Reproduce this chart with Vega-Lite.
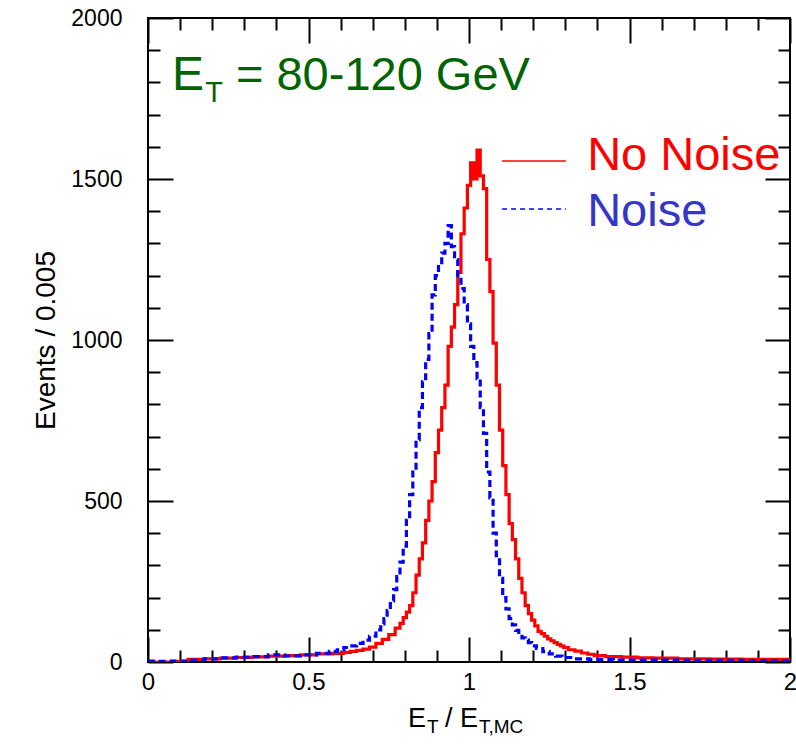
{
  "$schema": "https://vega.github.io/schema/vega-lite/v6.json",
  "width": 642,
  "height": 644,
  "autosize": {"type": "none"},
  "padding": {"left": 148, "top": 18, "right": 6, "bottom": 84},
  "background": "white",
  "config": {"view": {"stroke": "black", "strokeWidth": 2}, "font": "Liberation Sans"},
  "datasets": {
    "nonoise": [
      {"x":0,"n":0},{"x":0.05,"n":0},{"x":0.1,"n":2},{"x":0.15,"n":8},{"x":0.2,"n":10},{"x":0.25,"n":12},{"x":0.3,"n":14},{"x":0.35,"n":16},{"x":0.4,"n":18},{"x":0.45,"n":20},{"x":0.5,"n":22},{"x":0.55,"n":25},{"x":0.6,"n":27},{"x":0.62,"n":30},{"x":0.64,"n":33},{"x":0.66,"n":36},{"x":0.68,"n":40},{"x":0.7,"n":46},{"x":0.72,"n":58},{"x":0.74,"n":70},{"x":0.76,"n":85},{"x":0.78,"n":105},{"x":0.79,"n":120},{"x":0.8,"n":138},{"x":0.81,"n":155},{"x":0.82,"n":175},{"x":0.83,"n":215},{"x":0.84,"n":270},{"x":0.85,"n":320},{"x":0.86,"n":370},{"x":0.87,"n":440},{"x":0.88,"n":500},{"x":0.89,"n":560},{"x":0.9,"n":650},{"x":0.91,"n":720},{"x":0.92,"n":790},{"x":0.93,"n":860},{"x":0.94,"n":980},{"x":0.95,"n":1040},{"x":0.96,"n":1110},{"x":0.97,"n":1210},{"x":0.98,"n":1330},{"x":0.99,"n":1410},{"x":1.0,"n":1480},{"x":1.01,"n":1550},{"x":1.02,"n":1500},{"x":1.03,"n":1590},{"x":1.04,"n":1510},{"x":1.05,"n":1470},{"x":1.06,"n":1250},{"x":1.07,"n":1150},{"x":1.08,"n":990},{"x":1.09,"n":860},{"x":1.1,"n":720},{"x":1.11,"n":610},{"x":1.12,"n":520},{"x":1.13,"n":430},{"x":1.14,"n":380},{"x":1.15,"n":320},{"x":1.16,"n":260},{"x":1.17,"n":215},{"x":1.18,"n":175},{"x":1.19,"n":150},{"x":1.2,"n":130},{"x":1.21,"n":112},{"x":1.22,"n":95},{"x":1.23,"n":88},{"x":1.24,"n":80},{"x":1.25,"n":72},{"x":1.26,"n":66},{"x":1.27,"n":60},{"x":1.28,"n":55},{"x":1.29,"n":50},{"x":1.3,"n":45},{"x":1.32,"n":38},{"x":1.34,"n":34},{"x":1.36,"n":28},{"x":1.38,"n":24},{"x":1.4,"n":20},{"x":1.45,"n":17},{"x":1.5,"n":15},{"x":1.55,"n":13},{"x":1.6,"n":12},{"x":1.7,"n":10},{"x":1.8,"n":9},{"x":1.9,"n":8},{"x":2.0,"n":8}
    ],
    "noise": [
      {"x":0,"n":3},{"x":0.05,"n":2},{"x":0.1,"n":3},{"x":0.15,"n":6},{"x":0.2,"n":10},{"x":0.25,"n":13},{"x":0.3,"n":15},{"x":0.35,"n":17},{"x":0.4,"n":22},{"x":0.45,"n":19},{"x":0.5,"n":22},{"x":0.55,"n":27},{"x":0.58,"n":33},{"x":0.6,"n":38},{"x":0.62,"n":45},{"x":0.64,"n":50},{"x":0.66,"n":58},{"x":0.68,"n":68},{"x":0.7,"n":80},{"x":0.72,"n":100},{"x":0.73,"n":118},{"x":0.74,"n":135},{"x":0.75,"n":160},{"x":0.76,"n":190},{"x":0.77,"n":225},{"x":0.78,"n":265},{"x":0.79,"n":310},{"x":0.8,"n":360},{"x":0.81,"n":440},{"x":0.82,"n":520},{"x":0.83,"n":590},{"x":0.84,"n":690},{"x":0.85,"n":790},{"x":0.86,"n":870},{"x":0.87,"n":940},{"x":0.88,"n":1020},{"x":0.89,"n":1140},{"x":0.9,"n":1200},{"x":0.91,"n":1240},{"x":0.92,"n":1270},{"x":0.93,"n":1300},{"x":0.94,"n":1355},{"x":0.95,"n":1290},{"x":0.96,"n":1250},{"x":0.97,"n":1200},{"x":0.98,"n":1160},{"x":0.99,"n":1110},{"x":1.0,"n":1050},{"x":1.01,"n":980},{"x":1.02,"n":930},{"x":1.03,"n":880},{"x":1.04,"n":790},{"x":1.05,"n":710},{"x":1.06,"n":590},{"x":1.07,"n":510},{"x":1.08,"n":400},{"x":1.09,"n":330},{"x":1.1,"n":260},{"x":1.11,"n":200},{"x":1.12,"n":165},{"x":1.13,"n":135},{"x":1.14,"n":115},{"x":1.15,"n":98},{"x":1.16,"n":85},{"x":1.17,"n":75},{"x":1.18,"n":68},{"x":1.19,"n":60},{"x":1.2,"n":50},{"x":1.22,"n":42},{"x":1.24,"n":32},{"x":1.26,"n":25},{"x":1.28,"n":18},{"x":1.3,"n":14},{"x":1.35,"n":10},{"x":1.4,"n":8},{"x":1.5,"n":6},{"x":1.6,"n":6},{"x":1.7,"n":5},{"x":1.8,"n":5},{"x":1.9,"n":4},{"x":2.0,"n":4}
    ]
  },
  "layer": [
    {
      "data": {"name": "nonoise"},
      "mark": {"type": "line", "interpolate": "step", "color": "#ff0000", "strokeWidth": 3.2, "clip": true},
      "encoding": {
        "x": {"field": "x", "type": "quantitative", "scale": {"domain": [0, 2], "nice": false, "zero": false},
          "axis": {"orient": "bottom", "values": [0,0.1,0.2,0.3,0.4,0.5,0.6,0.7,0.8,0.9,1,1.1,1.2,1.3,1.4,1.5,1.6,1.7,1.8,1.9,2],
            "domain": false, "grid": false, "tickColor": "black", "tickWidth": 2,
            "tickSize": {"condition": {"test": "abs(datum.value*2-round(datum.value*2))<0.001", "value": -25}, "value": -12},
            "labelExpr": "abs(datum.value*2-round(datum.value*2))<0.001 ? format(datum.value,'~g') : ''",
            "labelFontSize": 24, "labelColor": "black", "labelFont": "Liberation Sans", "labelPadding": 33,
            "labelFlush": false, "labelOverlap": false, "title": null}},
        "y": {"field": "n", "type": "quantitative", "scale": {"domain": [0, 2000], "nice": false, "zero": false},
          "axis": {"orient": "left", "values": [0,100,200,300,400,500,600,700,800,900,1000,1100,1200,1300,1400,1500,1600,1700,1800,1900,2000],
            "domain": false, "grid": false, "tickColor": "black", "tickWidth": 2,
            "tickSize": {"condition": {"test": "datum.value % 500 == 0", "value": -25}, "value": -12},
            "labelExpr": "datum.value % 500 == 0 ? format(datum.value,'d') : ''",
            "labelFontSize": 23, "labelColor": "black", "labelFont": "Liberation Sans", "labelPadding": 51,
            "labelFlush": false, "labelOverlap": false,
            "title": "Events / 0.005", "titleFontSize": 28, "titleFontWeight": "normal", "titleFont": "Liberation Sans", "titleColor": "black", "titlePadding": 10}}
      }
    },
    {
      "data": {"name": "noise"},
      "mark": {"type": "line", "interpolate": "step", "color": "#0000ff", "strokeWidth": 3.2, "strokeDash": [7, 4], "clip": true},
      "encoding": {
        "x": {"field": "x", "type": "quantitative", "scale": {"domain": [0, 2], "nice": false, "zero": false},
          "axis": {"orient": "top", "values": [0,0.1,0.2,0.3,0.4,0.5,0.6,0.7,0.8,0.9,1,1.1,1.2,1.3,1.4,1.5,1.6,1.7,1.8,1.9,2],
            "domain": false, "grid": false, "tickColor": "black", "tickWidth": 2,
            "tickSize": {"condition": {"test": "abs(datum.value*2-round(datum.value*2))<0.001", "value": -25}, "value": -12},
            "labels": false, "title": null}},
        "y": {"field": "n", "type": "quantitative", "scale": {"domain": [0, 2000], "nice": false, "zero": false},
          "axis": {"orient": "right", "values": [0,100,200,300,400,500,600,700,800,900,1000,1100,1200,1300,1400,1500,1600,1700,1800,1900,2000],
            "domain": false, "grid": false, "tickColor": "black", "tickWidth": 2,
            "tickSize": {"condition": {"test": "datum.value % 500 == 0", "value": -25}, "value": -12},
            "labels": false, "title": null}}
      }
    },
    {
      "data": {"values": [{"x": 0.075, "y": 1776, "t": "E"}]},
      "mark": {"type": "text", "align": "left", "baseline": "alphabetic", "fontSize": 48, "color": "#006400", "font": "Liberation Sans"},
      "encoding": {"x": {"field": "x", "type": "quantitative", "axis": null}, "y": {"field": "y", "type": "quantitative", "axis": null}, "text": {"field": "t"}}
    },
    {
      "data": {"values": [{"x": 0.178, "y": 1739, "t": "T"}]},
      "mark": {"type": "text", "align": "left", "baseline": "alphabetic", "fontSize": 29, "color": "#006400", "font": "Liberation Sans"},
      "encoding": {"x": {"field": "x", "type": "quantitative", "axis": null}, "y": {"field": "y", "type": "quantitative", "axis": null}, "text": {"field": "t"}}
    },
    {
      "data": {"values": [{"x": 0.274, "y": 1776, "t": "= 80-120 GeV"}]},
      "mark": {"type": "text", "align": "left", "baseline": "alphabetic", "fontSize": 47, "color": "#006400", "font": "Liberation Sans"},
      "encoding": {"x": {"field": "x", "type": "quantitative", "axis": null}, "y": {"field": "y", "type": "quantitative", "axis": null}, "text": {"field": "t"}}
    },
    {
      "data": {"values": [{"x": 1.103, "x2": 1.302, "y": 1556}]},
      "mark": {"type": "rule", "color": "#ff0000", "strokeWidth": 1.5},
      "encoding": {"x": {"field": "x", "type": "quantitative", "axis": null}, "x2": {"field": "x2"}, "y": {"field": "y", "type": "quantitative", "axis": null}}
    },
    {
      "data": {"values": [{"x": 1.103, "x2": 1.302, "y": 1407}]},
      "mark": {"type": "rule", "color": "#0000ff", "strokeWidth": 1.5, "strokeDash": [5, 4]},
      "encoding": {"x": {"field": "x", "type": "quantitative", "axis": null}, "x2": {"field": "x2"}, "y": {"field": "y", "type": "quantitative", "axis": null}}
    },
    {
      "data": {"values": [{"x": 1.368, "y": 1528, "t": "No Noise"}]},
      "mark": {"type": "text", "align": "left", "baseline": "alphabetic", "fontSize": 47, "color": "#ff0000", "font": "Liberation Sans"},
      "encoding": {"x": {"field": "x", "type": "quantitative", "axis": null}, "y": {"field": "y", "type": "quantitative", "axis": null}, "text": {"field": "t"}}
    },
    {
      "data": {"values": [{"x": 1.368, "y": 1354, "t": "Noise"}]},
      "mark": {"type": "text", "align": "left", "baseline": "alphabetic", "fontSize": 47, "color": "#3535c8", "font": "Liberation Sans"},
      "encoding": {"x": {"field": "x", "type": "quantitative", "axis": null}, "y": {"field": "y", "type": "quantitative", "axis": null}, "text": {"field": "t"}}
    },
    {
      "data": {"values": [{"x": 0.81, "y": -202, "t": "E"}, {"x": 0.925, "y": -202, "t": "/ E"}]},
      "mark": {"type": "text", "align": "left", "baseline": "alphabetic", "fontSize": 27, "color": "black", "font": "Liberation Sans"},
      "encoding": {"x": {"field": "x", "type": "quantitative", "axis": null}, "y": {"field": "y", "type": "quantitative", "axis": null}, "text": {"field": "t"}}
    },
    {
      "data": {"values": [{"x": 0.869, "y": -222, "t": "T"}, {"x": 1.031, "y": -222, "t": "T,MC"}]},
      "mark": {"type": "text", "align": "left", "baseline": "alphabetic", "fontSize": 19, "color": "black", "font": "Liberation Sans"},
      "encoding": {"x": {"field": "x", "type": "quantitative", "axis": null}, "y": {"field": "y", "type": "quantitative", "axis": null}, "text": {"field": "t"}}
    }
  ],
  "resolve": {"axis": {"x": "independent", "y": "independent"}}
}
